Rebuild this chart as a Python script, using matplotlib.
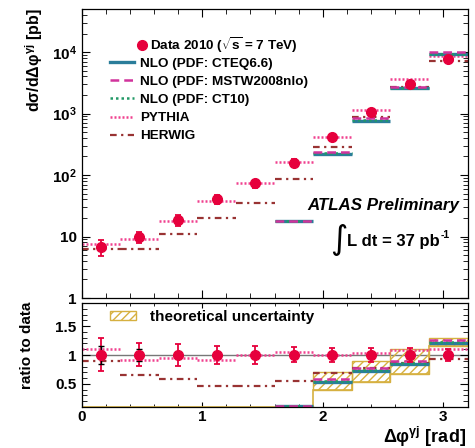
import matplotlib
matplotlib.use("Agg")
import matplotlib.pyplot as plt
import numpy as np
from matplotlib.lines import Line2D
from matplotlib.patches import Patch
from matplotlib.ticker import FixedLocator, FixedFormatter, LogLocator, MultipleLocator, NullFormatter

plt.rcParams["font.family"] = ["Liberation Sans", "DejaVu Sans"]
plt.rcParams["font.weight"] = "bold"
plt.rcParams["mathtext.fontset"] = "custom"
plt.rcParams["mathtext.rm"] = "Liberation Sans:bold"
plt.rcParams["mathtext.it"] = "Liberation Sans:bold:italic"
plt.rcParams["mathtext.bf"] = "Liberation Sans:bold"
plt.rcParams["hatch.linewidth"] = 1.0

nan = np.nan

# delta phi bins [rad]
bin_edges = [0.0, 0.32, 0.64, 0.96, 1.28, 1.60, 1.92, 2.24, 2.56, 2.88, 3.20]

# cross sections [pb]
data_xsec = [6.8, 9.7, 18.5, 40.7, 73.0, 159.0, 420.0, 1070.0, 3020.0, 7690.0]
data_tot_up = [0.30, 0.20, 0.19, 0.16, 0.15, 0.13, 0.12, 0.12, 0.12, 0.10]
data_tot_dn = [0.28, 0.19, 0.19, 0.16, 0.15, 0.12, 0.12, 0.12, 0.12, 0.10]
data_stat = [0.16, 0.11, 0.06, 0.03, 0.02, 0.015, 0.01, 0.01, 0.01, 0.005]

nlo_cteq_xsec = [nan, nan, nan, nan, nan, 17.7, 219.0, 755.0, 2570.0, 9270.0]
nlo_mstw_xsec = [nan, nan, nan, nan, nan, 18.0, 238.0, 830.0, 2730.0, 9870.0]
nlo_ct10_xsec = [nan, nan, nan, nan, nan, 17.8, 226.0, 780.0, 2620.0, 9450.0]
pythia_xsec = [7.55, 9.0, 17.7, 37.8, 73.0, 164.0, 420.0, 1140.0, 3600.0, 8610.0]
herwig_xsec = [6.3, 6.3, 11.1, 20.0, 34.7, 85.0, 288.0, 887.0, 2670.0, 7140.0]

# ratios to data
cteq_ratio = [nan, nan, nan, nan, nan, 0.11, 0.53, 0.72, 0.85, 1.20]
mstw_ratio = [nan, nan, nan, nan, nan, 0.115, 0.59, 0.78, 0.90, 1.26]
ct10_ratio = [nan, nan, nan, nan, nan, 0.112, 0.55, 0.74, 0.86, 1.22]
pythia_ratio = [1.10, 0.91, 0.95, 0.91, 1.00, 1.05, 1.00, 1.03, 1.08, 1.10]
herwig_ratio = [0.90, 0.65, 0.58, 0.47, 0.46, 0.55, 0.69, 0.78, 0.86, 0.93]
band_lo = [0.0, 0.0, 0.0, 0.0, 0.0, 0.10, 0.40, 0.53, 0.67, 1.15]
band_hi = [0.0, 0.0, 0.0, 0.0, 0.0, 0.125, 0.70, 0.895, 1.10, 1.30]

RED = "#e6003c"
CTEQ = "#2a7d9a"
MSTW = "#d1339c"
CT10 = "#229966"
PYTHIA = "#f0408f"
HERWIG = "#993333"
GOLD = "#d6b040"
plt.rcParams["hatch.color"] = GOLD

edges = np.array(bin_edges)
centers = 0.5 * (edges[:-1] + edges[1:])
widths = np.diff(edges)

styles = {
    "cteq": dict(color=CTEQ, lw=2.4, ls="-"),
    "ct10": dict(color=CT10, lw=1.8, ls=(0, (1, 1.2))),
    "mstw": dict(color=MSTW, lw=1.8, ls=(0, (3.5, 2))),
    "pythia": dict(color=PYTHIA, lw=1.8, ls=(0, (0.8, 0.8))),
    "herwig": dict(color=HERWIG, lw=1.6, ls=(0, (3, 2, 1, 2))),
}


def draw_hist(ax, values, style):
    ax.hlines(values, edges[:-1], edges[1:], colors=style["color"],
              linewidths=style["lw"], linestyles=[style["ls"]])


def style_axis(ax, xmajor_len, xminor_len):
    for sp in ax.spines.values():
        sp.set_linewidth(0.9)
    ax.tick_params(which="both", direction="in", top=True, right=True, labelsize=11)
    ax.tick_params(axis="y", which="major", length=6)
    ax.tick_params(axis="y", which="minor", length=3.5)
    ax.tick_params(axis="x", which="major", length=xmajor_len, pad=2)
    ax.tick_params(axis="x", which="minor", length=xminor_len)
    ax.set_xlim(edges[0], edges[-1])
    ax.xaxis.set_major_locator(FixedLocator([0, 1, 2, 3]))
    ax.xaxis.set_minor_locator(MultipleLocator(0.2))


fig = plt.figure(figsize=(4.75, 4.48), dpi=100)
ax_top = fig.add_axes([81.5 / 475, 1 - 298 / 448, 386 / 475, 289.5 / 448])
ax_rat = fig.add_axes([81.5 / 475, 1 - 407 / 448, 386 / 475, 104 / 448])

# ---- top panel ----
draw_hist(ax_top, herwig_xsec, styles["herwig"])
draw_hist(ax_top, pythia_xsec, styles["pythia"])
draw_hist(ax_top, nlo_cteq_xsec, styles["cteq"])
draw_hist(ax_top, nlo_ct10_xsec, styles["ct10"])
draw_hist(ax_top, nlo_mstw_xsec, styles["mstw"])

data = np.array(data_xsec)
yerr = [data * np.array(data_tot_dn), data * np.array(data_tot_up)]
ax_top.errorbar(centers, data, yerr=yerr, fmt="o", color=RED, ms=7,
                elinewidth=1.3, capsize=2.5, capthick=1.3, zorder=5)

ax_top.set_yscale("log")
ax_top.set_ylim(1, 5.1e4)
ax_top.yaxis.set_major_locator(FixedLocator([1, 10, 100, 1e3, 1e4]))
ax_top.yaxis.set_major_formatter(FixedFormatter(
    ["1", "10", r"$\mathregular{10^{2}}$", r"$\mathregular{10^{3}}$", r"$\mathregular{10^{4}}$"]))
ax_top.yaxis.set_minor_locator(LogLocator(base=10, subs=range(2, 10)))
ax_top.yaxis.set_minor_formatter(NullFormatter())
style_axis(ax_top, 6, 3.5)
ax_top.tick_params(axis="x", labelbottom=False)

leg_data = ax_top.legend(
    [Line2D([], [], ls="none", marker="o", color=RED, ms=7)],
    [r"Data 2010 ($\sqrt{\mathbf{s}}$ = 7 TeV)"],
    loc="center left", bbox_to_anchor=(0.142, 0.874), frameon=False,
    fontsize=9.7, handlelength=0.8, handletextpad=0.25, borderpad=0, borderaxespad=0)
ax_top.add_artist(leg_data)

model_handles = [Line2D([], [], **styles[k]) for k in ["cteq", "mstw", "ct10", "pythia", "herwig"]]
model_labels = ["NLO (PDF: CTEQ6.6)", "NLO (PDF: MSTW2008nlo)", "NLO (PDF: CT10)", "PYTHIA", "HERWIG"]
ax_top.legend(model_handles, model_labels, loc="center left", bbox_to_anchor=(0.0738, 0.684),
              frameon=False, fontsize=9.7, handlelength=1.75, handletextpad=0.5,
              labelspacing=0.42, borderpad=0, borderaxespad=0)

# ---- ratio panel ----
ax_rat.axhline(1.0, color="#777777", lw=1.0, zorder=1)
for lo, hi, c, w in zip(band_lo, band_hi, centers, widths):
    if hi > lo:
        ax_rat.bar(c, hi - lo, bottom=lo, width=w, fill=False, hatch="////",
                   edgecolor=GOLD, linewidth=1.0, zorder=2)
ax_rat.stairs(np.clip(band_lo, 0.1, None), edges, baseline=None, color=GOLD, lw=1.2, zorder=2)

draw_hist(ax_rat, herwig_ratio, styles["herwig"])
draw_hist(ax_rat, pythia_ratio, styles["pythia"])
draw_hist(ax_rat, cteq_ratio, styles["cteq"])
draw_hist(ax_rat, ct10_ratio, styles["ct10"])
draw_hist(ax_rat, mstw_ratio, styles["mstw"])

ones = np.ones(len(centers))
ax_rat.errorbar(centers, ones, yerr=[data_tot_dn, data_tot_up], fmt="none", ecolor=RED,
                elinewidth=1.3, capsize=2.5, capthick=1.3, zorder=5)
ax_rat.errorbar(centers, ones, yerr=data_stat, fmt="none", ecolor="black",
                elinewidth=1.0, capsize=2.2, capthick=1.0, zorder=6)
ax_rat.plot(centers, ones, "o", color=RED, ms=7, zorder=7)

ax_rat.set_ylim(0.1, 1.9)
ax_rat.yaxis.set_major_locator(FixedLocator([0.5, 1.0, 1.5]))
ax_rat.yaxis.set_major_formatter(FixedFormatter(["0.5", "1", "1.5"]))
ax_rat.yaxis.set_minor_locator(MultipleLocator(0.1))
style_axis(ax_rat, 3.5, 2)

ax_rat.legend([Patch(facecolor="none", edgecolor=GOLD, hatch="////")], ["theoretical uncertainty"],
              loc="center left", bbox_to_anchor=(0.0738, 0.865), frameon=False, fontsize=11,
              handlelength=1.7, handleheight=0.55, handletextpad=0.9, borderpad=0, borderaxespad=0)

# ---- labels ----
fig.text(34 / 475, 1 - 8.5 / 448, r"d$\mathregular{\sigma}$/d$\mathregular{\Delta\varphi^{\gamma j}}$ [pb]",
         rotation=90, ha="center", va="top", fontsize=11.5)
fig.text(27 / 475, 1 - 345 / 448, "ratio to data", rotation=90, ha="center", va="center", fontsize=11)
fig.text(466 / 475, 0.012, r"$\mathregular{\Delta\varphi^{\gamma j}}$ [rad]", ha="right", va="baseline",
         fontsize=13)

fig.text(307 / 475, 1 - 205 / 448, "ATLAS Preliminary", fontsize=12.2, style="italic",
         ha="left", va="center")
fig.text(339 / 475, 1 - 239 / 448, "\u222b", fontsize=24, family="DejaVu Sans", weight="normal",
         ha="center", va="center")
lumi = fig.text(347 / 475, 1 - 241 / 448, "L dt = 37 pb", fontsize=12, ha="left", va="center")
ax_top.annotate("-1", xy=(1.0, 0.6), xycoords=lumi, xytext=(0.5, 0), textcoords="offset points",
                fontsize=7.5, ha="left", va="bottom")

fig.savefig("out.png", dpi=100)
